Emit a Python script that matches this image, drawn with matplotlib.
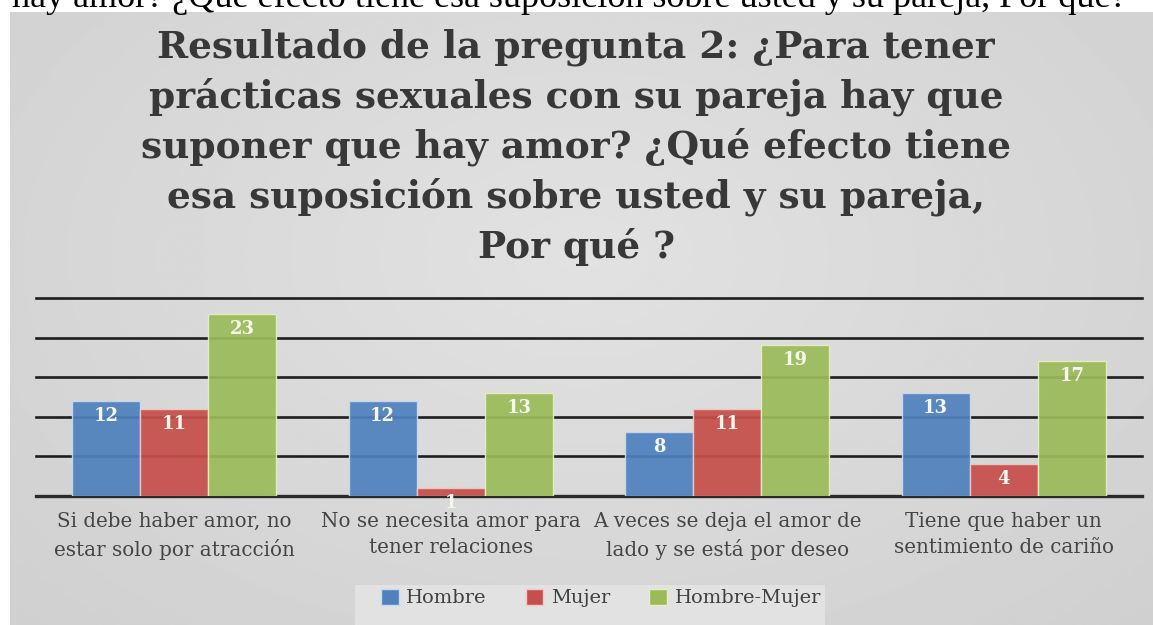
import numpy as np
import matplotlib
matplotlib.use("Agg")
import matplotlib.pyplot as plt
from matplotlib.patches import Rectangle, Patch

# datos del gráfico
categorias = ["Si debe haber amor, no\nestar solo por atracción",
              "No se necesita amor para\ntener relaciones",
              "A veces se deja el amor de\nlado y se está por deseo",
              "Tiene que haber un\nsentimiento de cariño"]
series = ["Hombre", "Mujer", "Hombre-Mujer"]
hombre = [12, 12, 8, 13]
mujer = [11, 1, 11, 4]
hombre_mujer = [23, 13, 19, 17]
colores = ["#4f81bd", "#c64f4b", "#9bbb59"]
bordes = ["#c9d8ee", "#f0c8c6", "#e4f0c4"]

lineas_titulo = ["Resultado de la pregunta 2: ¿Para tener",
                 "prácticas sexuales con su pareja hay que",
                 "suponer que hay amor? ¿Qué efecto tiene",
                 "esa suposición sobre usted y su pareja,",
                 "Por qué ?"]
texto_doc = "hay amor? ¿Qué efecto tiene esa suposición sobre usted y su pareja, Por qué?"

W, H = 1153, 625
fig = plt.figure(figsize=(W / 100, H / 100), dpi=100, facecolor="white")

# fondo gris del gráfico con degradado
bg = fig.add_axes([10 / W, 0, 1 - 10 / W, (H - 12) / H], zorder=0)
yy, xx = np.mgrid[0:1:200j, 0:1:400j]
d = np.sqrt(((xx - 0.5) / 0.75) ** 2 + ((yy - 0.4) / 0.9) ** 2)
bg.imshow(0.885 - 0.075 * d, cmap="gray", vmin=0, vmax=1, aspect="auto",
          extent=[0, 1, 0, 1], origin="upper")
bg.set_axis_off()

# texto del documento (cortado arriba)
fig.text(12 / W, 1 - 7 / H, texto_doc, family="Liberation Serif", fontsize=26,
         ha="left", va="baseline", color="black")

# título, una línea cada vez
for k, linea in enumerate(lineas_titulo):
    fig.text(576 / W, 1 - (58 + 50 * k) / H, linea, family="DejaVu Serif",
             weight="bold", fontsize=27, ha="center", va="baseline",
             color="#383838", zorder=5)

# barras
ax = fig.add_axes([36 / W, (H - 495.7) / H, (1142 - 36) / W, (495.7 - 298) / H], zorder=2)
ax.patch.set_visible(False)
x = np.arange(len(categorias))
ancho = 0.246
for i, (vals, c, b) in enumerate(zip([hombre, mujer, hombre_mujer], colores, bordes)):
    barras = ax.bar(x + (i - 1) * ancho, vals, ancho, color=c, edgecolor=b,
                    linewidth=1, alpha=0.93, zorder=3, label=series[i])
    for rect, v in zip(barras, vals):
        ax.annotate(str(v), (rect.get_x() + rect.get_width() / 2, v),
                    xytext=(0, -15), textcoords="offset pixels",
                    ha="center", va="center", fontsize=13, weight="bold",
                    family="DejaVu Serif", color="#f6f6ee", zorder=4,
                    annotation_clip=False)

ax.set_xlim(-0.5, 3.5)
ax.set_ylim(0, 25)
ax.set_yticks(np.arange(0, 26, 5))
ax.yaxis.grid(True, color="#1e1e1e", linewidth=1.9)
for gl in ax.get_ygridlines():
    gl.set_clip_on(False)
ax.set_axisbelow(True)
ax.axhline(0, color="#2a2a2a", linewidth=2.4, zorder=2, clip_on=False)
for s in ax.spines.values():
    s.set_visible(False)
ax.set_yticklabels([])
ax.tick_params(axis="y", length=0)
ax.set_xticks(x)
ax.set_xticklabels(categorias, family="DejaVu Serif", fontsize=14.3,
                   color="#454545", linespacing=1.45)
ax.tick_params(axis="x", length=0, pad=12)

# leyenda
fig.patches.append(Rectangle((355 / W, 0), (825 - 355) / W, (H - 585) / H,
                             transform=fig.transFigure, facecolor="#e2e2e2",
                             edgecolor="none", zorder=1))
handles = [Patch(facecolor=c, edgecolor=b) for c, b in zip(colores, bordes)]
fig.legend(handles, series, loc="center", bbox_to_anchor=(601 / W, 1 - 598 / H),
           ncol=3, frameon=False, prop={"family": "DejaVu Serif", "size": 14},
           labelcolor="#404040", handlelength=0.9, handleheight=0.9,
           handletextpad=0.4, columnspacing=2.0)

fig.savefig("out.png", dpi=100, facecolor="white")
